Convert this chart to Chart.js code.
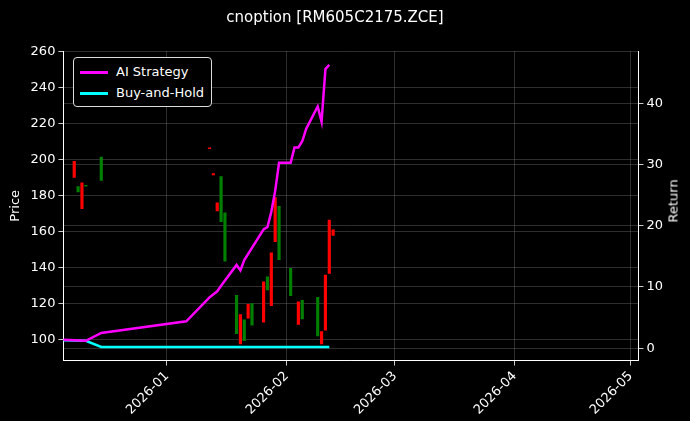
<!DOCTYPE html>
<html><head><meta charset="utf-8">
<script src="https://cdn.jsdelivr.net/npm/chart.js@4"></script>
<style>html,body{margin:0;background:#000;}#w{position:relative;width:690px;height:421px;}
#lg{position:absolute;left:73px;top:57px;border:1px solid #ddd;border-radius:4px;background:#000;color:#fff;font:13px "DejaVu Sans";padding:3px 7px 3px 6px;line-height:21px;}
#lg span{display:inline-block;width:28px;height:3px;vertical-align:middle;margin-right:8px;}
#rt{position:absolute;left:673px;top:201px;color:#fff;font:13px "DejaVu Sans";transform:translate(-50%,-50%) rotate(-90deg);white-space:nowrap;}</style>
</head><body><div id="w"><canvas id="c" width="690" height="421"></canvas>
<div id="lg"><div><span style="background:#ff00ff"></span>AI Strategy</div><div><span style="background:#00ffff"></span>Buy-and-Hold</div></div>
<div id="rt">Return</div></div>
<script>
const candleDates=["2025-12-08","2025-12-09","2025-12-10","2025-12-11","2025-12-15","2026-01-12","2026-01-13","2026-01-14","2026-01-15","2026-01-16","2026-01-19","2026-01-20","2026-01-21","2026-01-22","2026-01-23","2026-01-26","2026-01-27","2026-01-28","2026-01-29","2026-01-30","2026-02-02","2026-02-04","2026-02-05","2026-02-09","2026-02-10","2026-02-11","2026-02-12","2026-02-13"];
const opens =[199,182,187,185.2,188.4,206.5,192.2,176,165.5,143.5,103.3,113.8,99.4,119.5,108,132,127.6,148.2,178.9,144.4,124.3,121,111.5,102,104.4,135.8,166.4,161];
const closes=[190,185,172.7,185.6,201.4,206,191.5,171.5,190.5,170.4,124.5,97.5,111,111.9,120,109.6,134.8,118.8,154.4,174,139.6,108.4,121.8,123.4,97.5,105.2,136.7,157.8];
const aiDates=["2025-12-05","2025-12-11","2025-12-15","2026-01-06","2026-01-12","2026-01-14","2026-01-15","2026-01-19","2026-01-20","2026-01-21","2026-01-26","2026-01-27","2026-01-28","2026-01-29","2026-01-30","2026-02-02","2026-02-03","2026-02-04","2026-02-05","2026-02-06","2026-02-09","2026-02-10","2026-02-11","2026-02-12"];
const aiReturn=[1.4,1.2,2.5,4.4,8.3,9.3,10.2,13.6,12.7,14.4,19.4,19.8,22.3,25.7,30.3,30.3,32.8,32.8,33.8,35.8,39.5,37.0,45.6,46.3];
const bhDates=["2025-12-05","2025-12-11","2025-12-15","2026-02-12"];
const bhReturn=[1.3,1.2,0.2,0.2];
const xTickDates=["2026-01-01","2026-02-01","2026-03-01","2026-04-01","2026-05-01"];
const ref=Date.UTC(2026,0,1);
const day=s=>{const [y,m,d]=s.split("-").map(Number);return (Date.UTC(y,m-1,d)-ref)/864e5;};
const fmt=v=>{const d=new Date(ref+v*864e5);return d.getUTCFullYear()+"-"+String(d.getUTCMonth()+1).padStart(2,"0");};
const cColors=opens.map((o,i)=>closes[i]>=o?"#008000":"#ff0000");
const F={family:"DejaVu Sans",size:13};
const grid={color:"rgba(128,128,128,0.45)",lineWidth:0.8,borderDash:[2,2],drawTicks:true,tickColor:"#fff",tickLength:5};
new Chart(document.getElementById("c"),{
 data:{datasets:[
  {type:"bar",yAxisID:"y",data:candleDates.map((d,i)=>({x:day(d),y:[opens[i],closes[i]]})),backgroundColor:cColors,barThickness:2.5,order:2},
  {type:"line",yAxisID:"y2",data:aiDates.map((d,i)=>({x:day(d),y:aiReturn[i]})),borderColor:"#ff00ff",borderWidth:2.5,pointRadius:0,order:1},
  {type:"line",yAxisID:"y2",data:bhDates.map((d,i)=>({x:day(d),y:bhReturn[i]})),borderColor:"#00ffff",borderWidth:2.5,pointRadius:0,order:1}
 ]},
 options:{responsive:false,animation:false,
  layout:{padding:{left:4,right:24,top:0,bottom:0}},
  plugins:{legend:{display:false},tooltip:{enabled:false},
   title:{display:true,text:"cnoption [RM605C2175.ZCE]",color:"#fff",font:{family:"DejaVu Sans",size:15,weight:"normal"},padding:{top:9,bottom:24}}},
  scales:{
   x:{type:"linear",offset:false,min:-26.8,max:122,grid:{...grid,offset:false},border:{color:"#fff"},
      afterBuildTicks:a=>{a.ticks=xTickDates.map(s=>({value:day(s)}));},
      ticks:{color:"#fff",font:F,maxRotation:45,minRotation:45,callback:v=>fmt(v)}},
   y:{position:"left",min:88.3,max:260.3,grid:grid,border:{color:"#fff"},
      afterBuildTicks:a=>{a.ticks=[100,120,140,160,180,200,220,240,260].map(v=>({value:v}));},
      ticks:{color:"#fff",font:F},title:{display:true,text:"Price",color:"#fff",font:F}},
   y2:{position:"right",min:-2.02,max:48.55,grid:{...grid,drawOnChartArea:true},border:{color:"#fff"},
      afterBuildTicks:a=>{a.ticks=[0,10,20,30,40].map(v=>({value:v}));},
      ticks:{color:"#fff",font:F}}
  }}
});
</script></body></html>
